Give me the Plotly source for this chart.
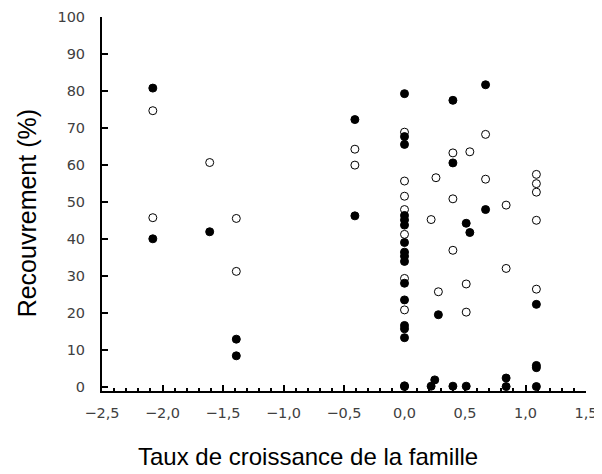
import plotly.graph_objects as go

# filled markers (x = taux de croissance, y = recouvrement %)
filled_x = [-2.08, -2.08, -1.61, -1.39, -1.39, -0.41, -0.41,
            0.0, 0.0, 0.0, 0.0, 0.0, 0.0, 0.0, 0.0, 0.0, 0.0, 0.0, 0.0, 0.0, 0.0, 0.0, 0.0, 0.0,
            0.22, 0.25, 0.28, 0.40, 0.40, 0.40, 0.51, 0.54, 0.51, 0.67, 0.67,
            0.84, 0.84, 1.09, 1.09, 1.09, 1.09]
filled_y = [80.8, 40.1, 42.0, 13.0, 8.5, 72.3, 46.3,
            79.3, 67.7, 65.6, 46.4, 45.2, 43.8, 39.1, 36.5, 35.4, 34.0, 28.1, 23.6, 16.7, 15.8, 13.4, 0.4, 0.2,
            0.3, 2.0, 19.6, 77.5, 60.6, 0.3, 44.3, 41.8, 0.3, 81.7, 48.0,
            2.5, 0.2, 22.4, 5.9, 5.3, 0.2]

# open markers
open_x = [-2.08, -2.08, -1.61, -1.39, -1.39, -0.41, -0.41,
          0.0, 0.0, 0.0, 0.0, 0.0, 0.0, 0.0,
          0.22, 0.26, 0.28, 0.40, 0.40, 0.40, 0.54, 0.51, 0.51,
          0.67, 0.67, 0.84, 0.84, 1.09, 1.09, 1.09, 1.09, 1.09]
open_y = [74.7, 45.8, 60.7, 45.6, 31.3, 64.3, 60.0,
          68.9, 55.7, 51.6, 48.0, 41.3, 29.4, 20.9,
          45.3, 56.6, 25.8, 63.3, 50.9, 37.0, 63.6, 27.9, 20.3,
          68.3, 56.2, 49.2, 32.1, 57.5, 55.0, 52.7, 45.1, 26.5]

fig = go.Figure()
fig.add_trace(go.Scatter(
    x=open_x, y=open_y, mode="markers",
    marker=dict(symbol="circle", size=8, color="white",
                line=dict(color="black", width=1)),
    cliponaxis=False))
fig.add_trace(go.Scatter(
    x=filled_x, y=filled_y, mode="markers",
    marker=dict(symbol="circle", size=8, color="black",
                line=dict(color="black", width=1)),
    cliponaxis=False))

tickfont = dict(family="DejaVu Sans", size=14.5, color="#404040")

# page body has an 8px margin, so the figure is a bit smaller
fig.update_layout(
    width=594, height=466,
    margin=dict(l=94, r=16, t=9, b=83),
    paper_bgcolor="white", plot_bgcolor="white",
    showlegend=False,
    separators=", ",
    xaxis=dict(
        range=[-2.5, 1.5], dtick=0.5, tick0=-2.5, tickformat=".1f",
        showgrid=False, zeroline=False, automargin=False,
        showline=True, linecolor="black", linewidth=2,
        ticks="inside", ticklen=6, tickwidth=2, tickcolor="black",
        minor=dict(dtick=0.1, ticks="inside", ticklen=3, tickwidth=1.5, tickcolor="black"),
        tickfont=tickfont, ticklabelstandoff=8,
    ),
    yaxis=dict(
        range=[-1, 100], dtick=10, tick0=0,
        showgrid=False, zeroline=False, automargin=False,
        showline=True, linecolor="black", linewidth=2,
        ticks="inside", ticklen=6, tickwidth=1.5, tickcolor="black",
        tickfont=tickfont, ticklabelstandoff=12,
    ),
)

fig.add_annotation(text="Taux de croissance de la famille",
                   xref="paper", yref="paper", x=0.4256, y=0,
                   xanchor="center", yanchor="middle", yshift=-65, showarrow=False,
                   font=dict(family="Liberation Sans, Arial", size=24, color="black"))
fig.add_annotation(text="Recouvrement (%)", textangle=-90,
                   xref="paper", yref="paper", x=0, y=0.475,
                   xanchor="center", yanchor="middle", xshift=-75, showarrow=False,
                   font=dict(family="Liberation Sans, Arial", size=25, color="black"))

fig.write_html("out.html")
